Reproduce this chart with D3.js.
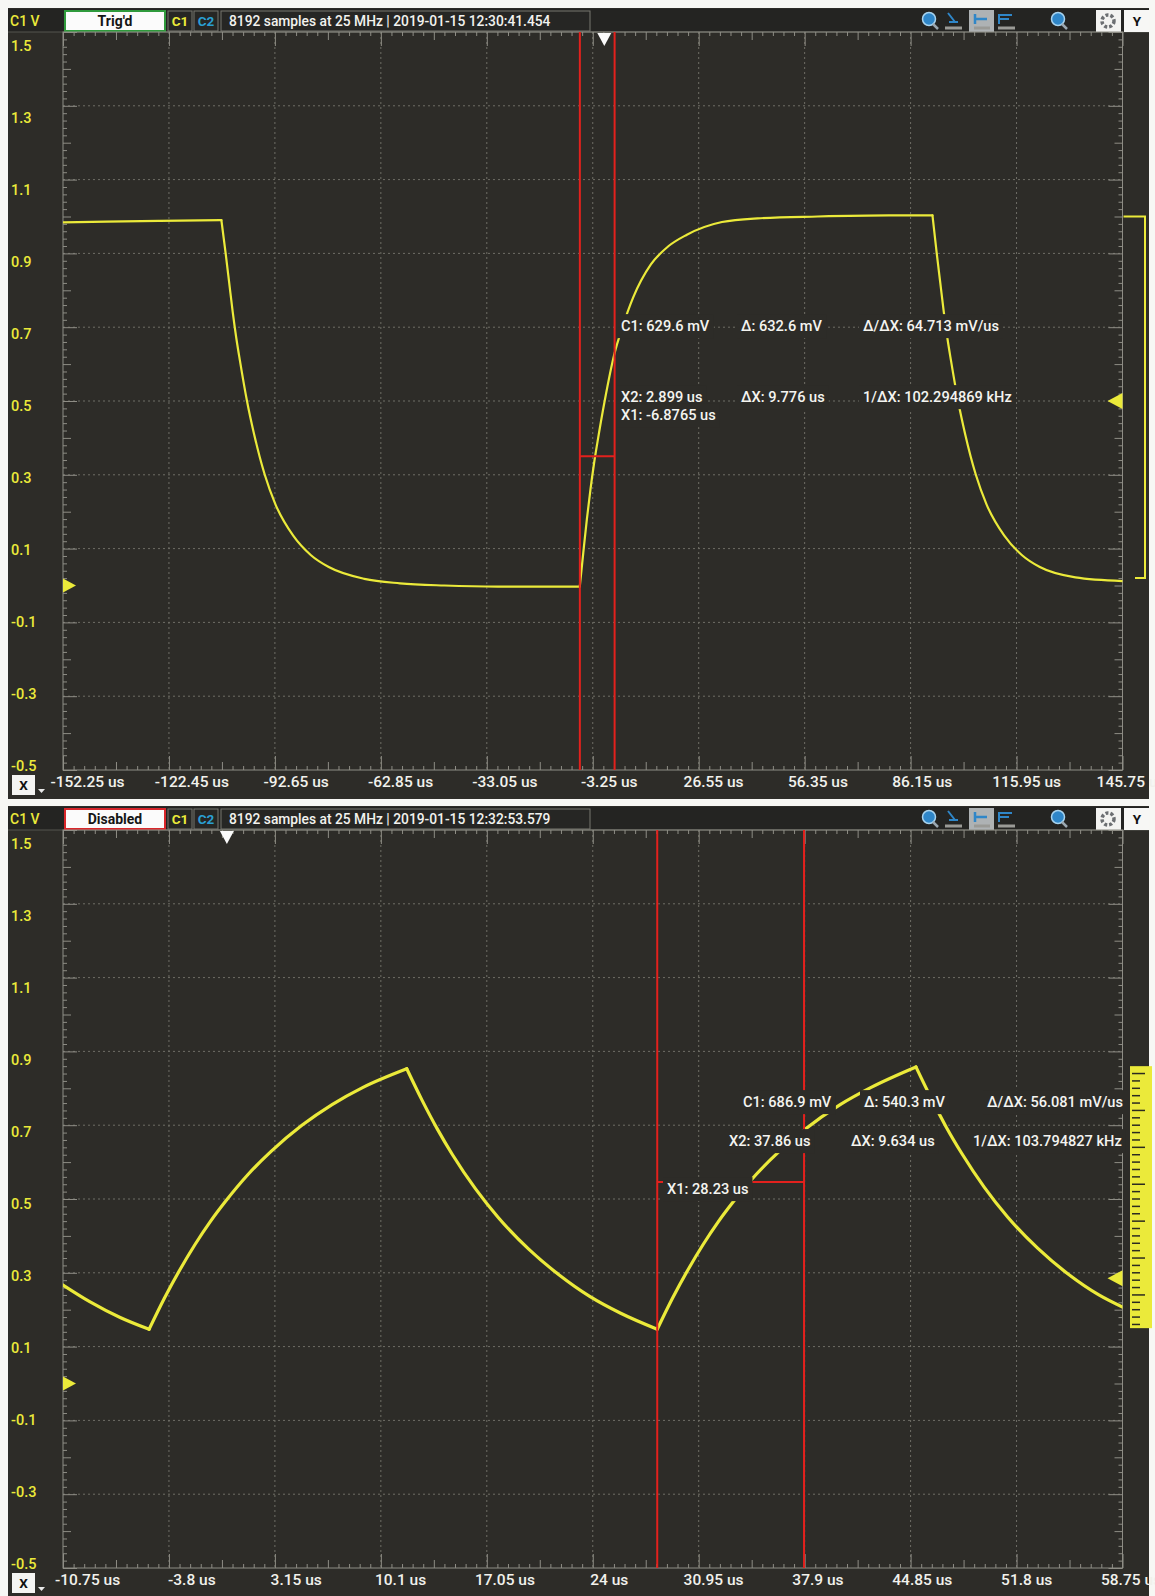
<!DOCTYPE html>
<html>
<head>
<meta charset="utf-8">
<title>C1 captures</title>
<script src="https://cdn.jsdelivr.net/npm/d3@7/dist/d3.min.js"></script>
<style>
    body { margin: 0; background: #f7f7f4; }
    svg { display: block; }
</style>
</head>
<body>
<div id="scope"></div>
<script>
// volt scale, the same on both captures
var voltTicks = [1.5, 1.3, 1.1, 0.9, 0.7, 0.5, 0.3, 0.1, -0.1, -0.3, -0.5];

// capture 1 - Trig'd, 29.8 us / div
var topTimeTicks = [-152.25, -122.45, -92.65, -62.85, -33.05, -3.25, 26.55, 56.35, 86.15, 115.95, 145.75];
var topTime = [-152.25, -140, -125, -107.7, -106.5, -105.5, -104.5, -103.5, -102.5, -100.5, -98.5, -95.5,
               -92.5, -87.5, -82.5, -77.5, -67.5, -57.5, -45, -30, -7.1, -6.9, -5.9, -4.9, -3.9, -2.9, -1.9,
               0.1, 2.9, 5.1, 8.1, 13.1, 18.1, 23.1, 33.1, 43.1, 60, 80, 92.3, 93.5, 94.5, 95.5, 96.5, 97.5,
               99.5, 101.5, 104.5, 107.5, 112.5, 117.5, 122.5, 132.5, 145.75];
var topVolts = [0.984, 0.986, 0.988, 0.99, 0.90, 0.82, 0.74, 0.67, 0.61, 0.50, 0.41, 0.30,
                0.22, 0.135, 0.082, 0.05, 0.018, 0.006, 0.0, -0.003, -0.003, -0.003, 0.09, 0.18, 0.26, 0.33, 0.39,
                0.50, 0.63, 0.70, 0.78, 0.87, 0.92, 0.95, 0.985, 0.995, 1.0, 1.003, 1.003, 0.90, 0.82, 0.74, 0.67, 0.61,
                0.50, 0.41, 0.30, 0.22, 0.135, 0.082, 0.05, 0.022, 0.012];
var topCursors = [-6.8765, 2.899];
var topCursorBar = 0.35;
var topTrigger = 0.5;
var topRange = [0.02, 1.0];
var topReadC = ["C1: 629.6 mV", "\u0394: 632.6 mV", "\u0394/\u0394X: 64.713 mV/us"];
var topReadX = ["X2: 2.899 us", "\u0394X: 9.776 us", "1/\u0394X: 102.294869 kHz"];
var topReadX1 = "X1: -6.8765 us";

// capture 2 - Disabled, 6.95 us / div
var bottomTimeTicks = [-10.75, -3.8, 3.15, 10.1, 17.05, 24, 30.95, 37.9, 44.85, 51.8, 58.75];
var bottomTime = [-10.75, -9, -7, -5.1, -4.1, -3.1, -2.1, -1.1, -0.1, 1.4, 2.9, 4.9, 6.9, 8.9, 11.8,
                  12.8, 13.8, 14.8, 16.3, 17.8, 19.8, 21.8, 23.8, 25.8, 28.23, 29.23, 30.23, 31.23, 32.23,
                  33.23, 34.73, 36.23, 37.86, 40.23, 42.23, 45.2, 46.2, 47.2, 48.2, 49.7, 51.2, 53.2, 55.2,
                  57.2, 58.75];
var bottomVolts = [0.267, 0.222, 0.179, 0.147, 0.231, 0.307, 0.376, 0.438, 0.493, 0.567, 0.629, 0.699, 0.756, 0.802, 0.853,
                   0.768, 0.690, 0.620, 0.528, 0.450, 0.364, 0.294, 0.236, 0.191, 0.147, 0.231, 0.307, 0.376, 0.438,
                   0.493, 0.567, 0.629, 0.687, 0.756, 0.802, 0.858, 0.773, 0.694, 0.624, 0.531, 0.452, 0.366, 0.296,
                   0.240, 0.207];
var bottomCursors = [28.23, 37.86];
var bottomCursorBar = 0.546;
var bottomTrigger = 0.285;
var bottomRange = [0.15, 0.86];
var bottomReadC = ["C1: 686.9 mV", "\u0394: 540.3 mV", "\u0394/\u0394X: 56.081 mV/us"];
var bottomReadX = ["X2: 37.86 us", "\u0394X: 9.634 us", "1/\u0394X: 103.794827 kHz"];
var bottomReadX1 = "X1: 28.23 us";

var W = 1155, H = 1596;
var left = 63, right = 1122.5, plotTop = 32, plotBottom = 770;
var bg = "#2d2c28", yellow = "#ebea3a", red = "#e3211d", tickGrey = "#8e8d85";
var font = "Roboto, 'Liberation Sans', Arial, sans-serif";

var svg = d3.select("#scope").append("svg")
    .attr("width", W).attr("height", H)
    .style("font-family", font);
svg.append("rect").attr("width", W).attr("height", H).attr("fill", "#f7f7f4");

drawCapture({
    oy: 0, status: "Trig'd", statusColor: "#2f9a3c",
    stamp: "8192 samples at 25 MHz | 2019-01-15 12:30:41.454",
    ticks: topTimeTicks, time: topTime, volts: topVolts, width: 2.2,
    cursors: topCursors, bar: topCursorBar, trigger: topTrigger, range: topRange, band: false,
    readC: topReadC, readX: topReadX, readX1: topReadX1,
    colC: [621, 741, 863], colX: [621, 741, 863], x1At: 621, rows: [326, 397, 415]
});
drawCapture({
    oy: 798, status: "Disabled", statusColor: "#d8262a",
    stamp: "8192 samples at 25 MHz | 2019-01-15 12:32:53.579",
    ticks: bottomTimeTicks, time: bottomTime, volts: bottomVolts, width: 3.2,
    cursors: bottomCursors, bar: bottomCursorBar, trigger: bottomTrigger, range: bottomRange, band: true,
    readC: bottomReadC, readX: bottomReadX, readX1: bottomReadX1,
    colC: [743, 864, 987], colX: [729, 851, 973], x1At: 667, rows: [304, 343, 391]
});

// break a trace where it turns, so the corners stay sharp
function splitRuns(xs, ys) {
    var runs = [], cur = [[xs[0], ys[0]]], dir = 0;
    for (var i = 1; i < xs.length; i++) {
        var d = Math.sign(ys[i] - ys[i - 1]);
        if (d !== 0 && dir !== 0 && d !== dir) {
            runs.push(cur);
            cur = [[xs[i - 1], ys[i - 1]]];
        }
        if (d !== 0) dir = d;
        cur.push([xs[i], ys[i]]);
    }
    runs.push(cur);
    return runs;
}

function drawCapture(p) {
    var g = svg.append("g").attr("transform", "translate(0," + p.oy + ")");
    var x = d3.scaleLinear().domain([p.ticks[0], p.ticks[p.ticks.length - 1]]).range([left, right]);
    var y = d3.scaleLinear().domain([voltTicks[0], voltTicks[voltTicks.length - 1]]).range([plotTop, plotBottom]);

    g.append("rect").attr("x", 8).attr("y", 8).attr("width", 1141).attr("height", 791).attr("fill", bg);
    drawHeader(g, p);

    // dotted grid, major divisions only
    var grid = g.append("g").attr("stroke", "#6f6e66").attr("stroke-dasharray", "2,3");
    grid.selectAll("line.gx").data(p.ticks.slice(1, -1)).join("line").attr("class", "gx")
        .attr("x1", x).attr("x2", x).attr("y1", plotTop).attr("y2", plotBottom);
    grid.selectAll("line.gy").data(voltTicks.slice(1, -1)).join("line").attr("class", "gy")
        .attr("x1", left).attr("x2", right).attr("y1", y).attr("y2", y);

    // ticks on all four edges: 10 per division, longer at the half and the division
    var xStep = (p.ticks[1] - p.ticks[0]) / 10, yStep = (voltTicks[1] - voltTicks[0]) / 10;
    var steps = d3.range(0, 101);
    var sets = [
        [function (i) { return i % 10 === 0; }, 14],
        [function (i) { return i % 10 === 5; }, 8],
        [function (i) { return i % 5 !== 0; }, 4]
    ];
    sets.forEach(function (s) {
        var xv = steps.filter(s[0]).map(function (i) { return p.ticks[0] + i * xStep; });
        var yv = steps.filter(s[0]).map(function (i) { return voltTicks[0] + i * yStep; });
        edgeTicks(g, d3.axisBottom(x), xv, s[1], 0, plotTop);
        edgeTicks(g, d3.axisTop(x), xv, s[1], 0, plotBottom);
        edgeTicks(g, d3.axisRight(y), yv, s[1], left, 0);
        edgeTicks(g, d3.axisLeft(y), yv, s[1], right, 0);
    });
    g.append("rect").attr("x", left).attr("y", plotTop).attr("width", right - left)
        .attr("height", plotBottom - plotTop).attr("fill", "none").attr("stroke", tickGrey);

    // axis labels (the scope prints them a little right of each division)
    var xl = g.append("g").attr("transform", "translate(0,776)")
        .call(d3.axisBottom(x).tickValues(p.ticks).tickSize(0).tickPadding(0)
            .tickFormat(function (d) { return d + " us"; }));
    xl.select(".domain").remove();
    xl.selectAll("text").attr("fill", "#f1f1ec").attr("font-size", 15.5).attr("font-family", font)
        .attr("font-weight", 500).attr("dx", function (d, i) { return 24 - 1.6 * i; });

    var yl = g.append("g").attr("transform", "translate(11,0)")
        .call(d3.axisRight(y).tickValues(voltTicks).tickSize(0).tickPadding(0).tickFormat(String));
    yl.select(".domain").remove();
    yl.selectAll("text").attr("fill", yellow).attr("font-size", 14.5).attr("font-family", font)
        .attr("font-weight", 500).attr("y", function (d, i) { return 14 - 1.8 * i; });

    // X selector box
    g.append("rect").attr("x", 12).attr("y", 775).attr("width", 23).attr("height", 20).attr("fill", "#f4f4f2");
    g.append("text").attr("x", 23.5).attr("y", 785).attr("dy", "0.35em").attr("text-anchor", "middle")
        .attr("font-size", 13.5).attr("font-weight", 700).attr("fill", "#111").text("X");
    g.append("path").attr("d", "M38,789 L45,789 L41.5,793 Z").attr("fill", "#e8e8e8");

    // trace
    var clipId = "plotclip" + p.oy;
    g.append("clipPath").attr("id", clipId).append("rect")
        .attr("x", left).attr("y", plotTop).attr("width", right - left).attr("height", plotBottom - plotTop);
    var line = d3.line().x(function (d) { return x(d[0]); }).y(function (d) { return y(d[1]); })
        .curve(d3.curveMonotoneX);
    g.append("g").attr("clip-path", "url(#" + clipId + ")")
        .selectAll("path").data(splitRuns(p.time, p.volts)).join("path")
        .attr("d", line).attr("fill", "none").attr("stroke", yellow).attr("stroke-width", p.width)
        .attr("stroke-linejoin", "round").attr("stroke-linecap", "round");

    // cursors
    g.selectAll("line.cursor").data(p.cursors).join("line").attr("class", "cursor")
        .attr("x1", x).attr("x2", x).attr("y1", plotTop).attr("y2", plotBottom)
        .attr("stroke", red).attr("stroke-width", 2);
    g.append("line").attr("x1", x(p.cursors[0])).attr("x2", x(p.cursors[1]))
        .attr("y1", y(p.bar)).attr("y2", y(p.bar)).attr("stroke", red).attr("stroke-width", 2);

    // readouts sit on boxes of the plot colour
    function readout(txt, tx, ty) {
        var t = g.append("text").attr("x", tx).attr("y", ty).attr("dy", "0.35em")
            .attr("fill", "#f4f4f0").attr("font-size", 14.6).attr("font-weight", 500).text(txt);
        var b = t.node().getBBox();
        g.insert("rect", function () { return t.node(); })
            .attr("x", b.x - 4).attr("y", b.y - 3).attr("width", b.width + 8).attr("height", b.height + 6)
            .attr("fill", bg);
    }
    p.readC.forEach(function (t, i) { readout(t, p.colC[i], p.rows[0]); });
    p.readX.forEach(function (t, i) { readout(t, p.colX[i], p.rows[1]); });
    readout(p.readX1, p.x1At, p.rows[2]);

    // ground, trigger level and trigger position markers
    var y0 = y(0), yt = y(p.trigger), xt = x(0);
    g.append("path").attr("d", "M" + left + "," + (y0 - 7) + " L" + (left + 13) + "," + y0 + " L" + left + "," + (y0 + 7) + " Z")
        .attr("fill", yellow);
    g.append("path").attr("d", "M" + right + "," + (yt - 8) + " L" + (right - 15) + "," + yt + " L" + right + "," + (yt + 8) + " Z")
        .attr("fill", yellow);
    g.append("path").attr("d", "M" + (xt - 7) + "," + (plotTop + 1) + " L" + (xt + 7) + "," + (plotTop + 1) + " L" + xt + "," + (plotTop + 14) + " Z")
        .attr("fill", "#fafafa");

    // signal span indicator right of the plot
    var yHi = y(p.range[1]), yLo = y(p.range[0]);
    if (p.band) {
        g.append("rect").attr("x", 1130).attr("y", yHi).attr("width", 22).attr("height", yLo - yHi).attr("fill", yellow);
        var marks = steps.map(function (i) { return voltTicks[0] + i * yStep; })
            .filter(function (v) { return v < p.range[1] - 0.005 && v > p.range[0] + 0.005; });
        g.selectAll("line.band").data(marks).join("line").attr("class", "band")
            .attr("x1", 1132).attr("x2", function (d, i) { return i % 5 === 0 ? 1145 : 1140; })
            .attr("y1", y).attr("y2", y).attr("stroke", "#2b2a20").attr("stroke-width", 1.5);
    } else {
        g.append("path").attr("d", "M" + (right + 1) + "," + yHi + " H1145 V" + yLo + " H1135")
            .attr("fill", "none").attr("stroke", yellow).attr("stroke-width", 2);
    }
}

function edgeTicks(g, axis, vals, size, tx, ty) {
    var a = g.append("g").attr("transform", "translate(" + tx + "," + ty + ")")
        .call(axis.tickValues(vals).tickSize(size).tickFormat(""));
    a.select(".domain").remove();
    a.selectAll("line").attr("stroke", tickGrey);
}

function drawHeader(g, p) {
    g.append("rect").attr("x", 8).attr("y", 9).attr("width", 1141).attr("height", 23).attr("fill", "#242422");
    g.append("line").attr("x1", 8).attr("x2", 1149).attr("y1", 32).attr("y2", 32).attr("stroke", "#55554f");
    g.append("text").attr("x", 10).attr("y", 21).attr("dy", "0.35em").attr("fill", yellow)
        .attr("font-size", 14).attr("font-weight", 500).text("C1 V");

    g.append("rect").attr("x", 65).attr("y", 11).attr("width", 100).attr("height", 20)
        .attr("fill", "#fbfbfb").attr("stroke", p.statusColor).attr("stroke-width", 2);
    g.append("text").attr("x", 115).attr("y", 21).attr("dy", "0.35em").attr("text-anchor", "middle")
        .attr("font-size", 14).attr("font-weight", 700).attr("fill", "#151515").text(p.status);

    [["C1", yellow, 168], ["C2", "#2a9fd2", 194]].forEach(function (c) {
        g.append("rect").attr("x", c[2]).attr("y", 11).attr("width", 24).attr("height", 20)
            .attr("fill", "#262624").attr("stroke", "#77766f");
        g.append("text").attr("x", c[2] + 12).attr("y", 21).attr("dy", "0.35em").attr("text-anchor", "middle")
            .attr("font-size", 13.5).attr("font-weight", 700).attr("fill", c[1]).text(c[0]);
    });
    g.append("rect").attr("x", 221).attr("y", 11).attr("width", 369).attr("height", 20)
        .attr("fill", "#262624").attr("stroke", "#77766f");
    g.append("text").attr("x", 229).attr("y", 21).attr("dy", "0.35em").attr("fill", "#f2f2ee")
        .attr("font-size", 13.8).attr("font-weight", 500).text(p.stamp);

    // tool buttons on the right
    var blue = "#2f86c8";
    [929, 1058].forEach(function (cx) {
        g.append("circle").attr("cx", cx).attr("cy", 19).attr("r", 6.5).attr("fill", blue)
            .attr("stroke", "#a7d3ef").attr("stroke-width", 1.5);
        g.append("line").attr("x1", cx + 4).attr("y1", 24).attr("x2", cx + 9).attr("y2", 29)
            .attr("stroke", "#9aa7b0").attr("stroke-width", 2.5);
    });
    g.append("rect").attr("x", 969).attr("y", 10).attr("width", 25).attr("height", 22).attr("fill", "#aeb2b4");
    g.append("path").attr("d", "M948,13 L955,22 M949,22 H958").attr("stroke", blue).attr("stroke-width", 2).attr("fill", "none");
    g.append("path").attr("d", "M975,14 V24 M975,19 H987").attr("stroke", blue).attr("stroke-width", 2.5).attr("fill", "none");
    g.append("path").attr("d", "M999,14 V24 M999,15 H1012 M999,19 H1009").attr("stroke", blue).attr("stroke-width", 2).attr("fill", "none");
    [[945, 962], [974, 990], [998, 1015]].forEach(function (b) {
        g.append("line").attr("x1", b[0]).attr("x2", b[1]).attr("y1", 28).attr("y2", 28)
            .attr("stroke", "#9a9a96").attr("stroke-width", 3);
    });
    g.append("rect").attr("x", 1096).attr("y", 10).attr("width", 25).attr("height", 22).attr("fill", "#f3f3f1");
    g.append("circle").attr("cx", 1108).attr("cy", 21).attr("r", 6).attr("fill", "none")
        .attr("stroke", "#6c6f72").attr("stroke-width", 3.5).attr("stroke-dasharray", "3,2");
    g.append("rect").attr("x", 1124).attr("y", 10).attr("width", 25).attr("height", 22).attr("fill", "#f7f7f5");
    g.append("text").attr("x", 1137).attr("y", 21).attr("dy", "0.35em").attr("text-anchor", "middle")
        .attr("font-size", 13.5).attr("font-weight", 700).attr("fill", "#111").text("Y");
}
</script>
</body>
</html>
